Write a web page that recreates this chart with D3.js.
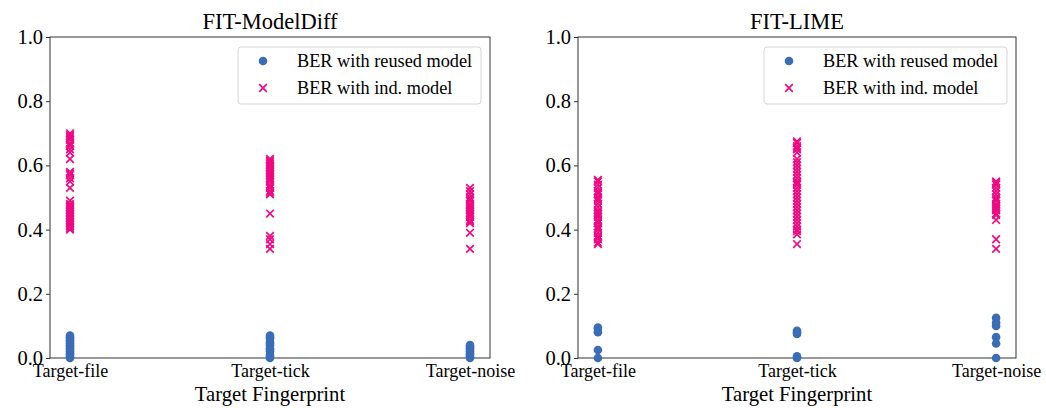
<!DOCTYPE html>
<html>
<head>
<meta charset="utf-8">
<script src="https://cdn.jsdelivr.net/npm/d3@7"></script>
<style>
  body { margin: 0; background: #fff; }
  svg text { font-family: "Liberation Serif", "Times New Roman", Times, "DejaVu Serif", serif !important; fill: #000; }
</style>
</head>
<body>
<div id="chart"></div>
<script>
// categories and labels
var categories = ["Target-file", "Target-tick", "Target-noise"];
var yTicks = [0.0, 0.2, 0.4, 0.6, 0.8, 1.0];
var titles = ["FIT-ModelDiff", "FIT-LIME"];
var legendLabels = ["BER with reused model", "BER with ind. model"];

// FIT-ModelDiff values
var mdFileReused = [0.0,0.005,0.01,0.015,0.02,0.025,0.03,0.035,0.04,0.045,0.05,0.055,0.06,0.065,0.07];
var mdFileInd = [0.40,0.405,0.41,0.415,0.42,0.425,0.43,0.435,0.44,0.445,0.45,0.455,0.46,0.465,0.47,0.475,0.48,0.49,0.53,0.55,0.56,0.57,0.575,0.58,0.62,0.64,0.65,0.66,0.665,0.67,0.68,0.685,0.69,0.695,0.70];
var mdTickReused = [0.0,0.005,0.01,0.02,0.025,0.03,0.04,0.045,0.05,0.06,0.065,0.07];
var mdTickInd = [0.34,0.355,0.37,0.38,0.45,0.51,0.515,0.52,0.53,0.535,0.54,0.55,0.555,0.56,0.565,0.57,0.575,0.58,0.585,0.59,0.595,0.60,0.605,0.61,0.615,0.62];
var mdNoiseReused = [0.0,0.005,0.01,0.015,0.02,0.025,0.03,0.035,0.04];
var mdNoiseInd = [0.34,0.39,0.42,0.425,0.43,0.44,0.445,0.45,0.455,0.46,0.465,0.47,0.475,0.48,0.49,0.495,0.50,0.51,0.52,0.53];

// FIT-LIME values
var limeFileReused = [0.0,0.025,0.08,0.09,0.095];
var limeFileInd = [0.355,0.36,0.37,0.375,0.38,0.39,0.40,0.405,0.41,0.42,0.425,0.43,0.44,0.445,0.45,0.455,0.46,0.47,0.48,0.49,0.495,0.50,0.51,0.515,0.52,0.53,0.54,0.55,0.555];
var limeTickReused = [0.0,0.005,0.075,0.08,0.085];
var limeTickInd = [0.355,0.385,0.395,0.40,0.41,0.42,0.43,0.44,0.45,0.46,0.47,0.48,0.49,0.50,0.51,0.52,0.53,0.54,0.545,0.55,0.56,0.57,0.58,0.59,0.60,0.61,0.62,0.64,0.65,0.655,0.66,0.67,0.675];
var limeNoiseReused = [0.0,0.045,0.065,0.10,0.11,0.125];
var limeNoiseInd = [0.34,0.37,0.43,0.445,0.45,0.46,0.465,0.47,0.475,0.48,0.49,0.495,0.50,0.51,0.52,0.53,0.54,0.545,0.55];

var blue = "#3a6db5", pink = "#ee0a84";
var serif = "'Liberation Serif', 'Times New Roman', Times, 'DejaVu Serif', serif";

var svg = d3.select("#chart").append("svg")
    .attr("width", 1046)
    .attr("height", 408)
    .attr("font-family", serif);

function toPoints(lists) {
    var pts = [];
    lists.forEach(function(vals, i) {
        vals.forEach(function(v) { pts.push({cat: i, v: v}); });
    });
    return pts;
}

function drawPanel(left, right, title, reused, ind) {
    var top = 37, bottom = 358;
    var g = svg.append("g");

    var x = d3.scaleLinear().domain([-0.1, 2.1]).range([left, right]);
    var y = d3.scaleLinear().domain([0, 1]).range([bottom, top]);

    // axes
    var ax = g.append("g")
        .attr("transform", "translate(0," + bottom + ")")
        .call(d3.axisBottom(x).tickValues([0, 1, 2]).tickFormat(function(d) { return categories[d]; }).tickSizeOuter(0).tickSize(4));
    ax.attr("font-family", serif);
    ax.selectAll("text").style("font-size", "18px").attr("dy", "0.9em").attr("y", 3);
    var ay = g.append("g")
        .attr("transform", "translate(" + left + ",0)")
        .call(d3.axisLeft(y).tickValues(yTicks).tickFormat(d3.format(".1f")).tickSizeOuter(0).tickSize(4));
    ay.attr("font-family", serif);
    ay.selectAll("text").style("font-size", "20.5px").attr("x", -7);
    g.selectAll(".domain").remove();
    g.selectAll(".tick line").attr("stroke", "#333");
    g.selectAll(".tick text").attr("fill", "#000");

    // frame
    g.append("rect")
        .attr("x", left).attr("y", top)
        .attr("width", right - left).attr("height", bottom - top)
        .attr("fill", "none").attr("stroke", "#333").attr("stroke-width", 1);

    // reused model (circles)
    g.selectAll(".dot").data(toPoints(reused)).enter().append("circle")
        .attr("cx", function(d) { return x(d.cat); })
        .attr("cy", function(d) { return y(d.v); })
        .attr("r", 4.3)
        .attr("fill", blue);

    // independent model (crosses)
    var s = 3.8;
    g.selectAll(".cross").data(toPoints(ind)).enter().append("path")
        .attr("d", function(d) {
            var cx = x(d.cat), cy = y(d.v);
            return "M" + (cx - s) + "," + (cy - s) + "L" + (cx + s) + "," + (cy + s) +
                   "M" + (cx - s) + "," + (cy + s) + "L" + (cx + s) + "," + (cy - s);
        })
        .attr("stroke", pink).attr("stroke-width", 1.7).attr("fill", "none");

    // title
    g.append("text")
        .attr("x", (left + right) / 2).attr("y", 29)
        .attr("text-anchor", "middle")
        .style("font-size", "22.5px")
        .text(title);

    // x label
    g.append("text")
        .attr("x", (left + right) / 2).attr("y", 401)
        .attr("text-anchor", "middle")
        .style("font-size", "20.7px")
        .text("Target Fingerprint");

    // legend
    var lw = 243, lh = 57;
    var lx = right - 9 - lw, ly = top + 10;
    var lg = g.append("g");
    lg.append("rect")
        .attr("x", lx).attr("y", ly).attr("width", lw).attr("height", lh)
        .attr("rx", 3).attr("fill", "#fff").attr("fill-opacity", 0.8)
        .attr("stroke", "#d5d5d5");
    lg.append("circle")
        .attr("cx", lx + 25).attr("cy", ly + 14).attr("r", 4.3).attr("fill", blue);
    var mx = lx + 25, my = ly + 41, m = 3.8;
    lg.append("path")
        .attr("d", "M" + (mx - m) + "," + (my - m) + "L" + (mx + m) + "," + (my + m) +
                   "M" + (mx - m) + "," + (my + m) + "L" + (mx + m) + "," + (my - m))
        .attr("stroke", pink).attr("stroke-width", 1.7);
    lg.selectAll(".lt").data(legendLabels).enter().append("text")
        .attr("x", lx + 59)
        .attr("y", function(d, i) { return ly + 14 + i * 27; })
        .attr("dy", "0.35em")
        .style("font-size", "18.3px")
        .text(function(d) { return d; });
}

drawPanel(50, 490, titles[0],
    [mdFileReused, mdTickReused, mdNoiseReused],
    [mdFileInd, mdTickInd, mdNoiseInd]);
drawPanel(578, 1016, titles[1],
    [limeFileReused, limeTickReused, limeNoiseReused],
    [limeFileInd, limeTickInd, limeNoiseInd]);
</script>
</body>
</html>
